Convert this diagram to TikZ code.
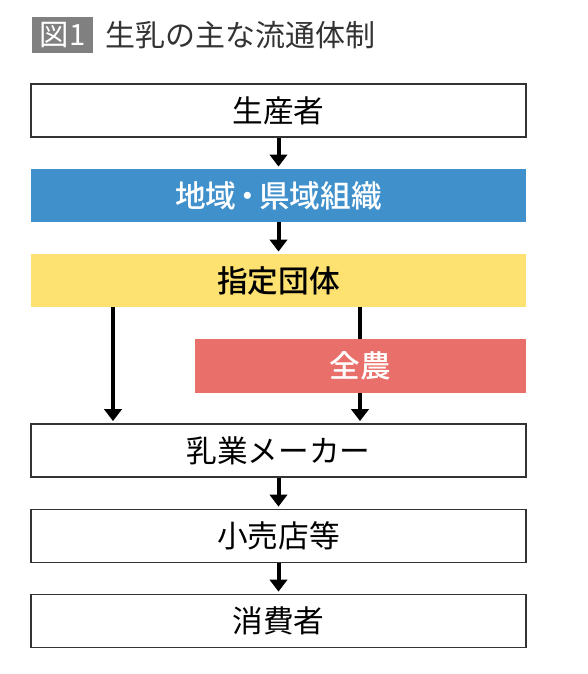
\documentclass[tikz,border=0pt]{standalone}
\usepackage{fontspec}
\setmainfont{Noto Sans CJK JP}
\newfontfamily\medjp{Noto Sans CJK JP Medium}
\usepackage{tikz}
\usetikzlibrary{arrows.meta}

\definecolor{zublue}{RGB}{64,144,204}
\definecolor{zuyellow}{RGB}{253,226,114}
\definecolor{zured}{RGB}{233,112,106}
\definecolor{zugray}{RGB}{128,128,128}
\definecolor{zuline}{RGB}{51,51,51}

\tikzset{
  stage/.style={draw=zuline, line width=1.1pt, fill=white, minimum width=371.25pt, minimum height=40pt, inner sep=0pt, font=\fontsize{23}{23}\selectfont},
  band/.style={fill=#1, minimum width=371.25pt, minimum height=40pt, inner sep=0pt, font=\fontsize{23}{23}\selectfont\medjp},
  flow/.style={line width=3pt, -{Triangle[width=13pt,length=9pt]}, shorten >=1.5pt}
}

\begin{document}
\begin{tikzpicture}[x=0.75pt,y=0.75pt,yscale=-1,xscale=1]
                  \useasboundingbox (0,0) rectangle (588,674);

                  % Title
                  \node [fill=zugray, text=white, minimum width=45.75pt, minimum height=27pt, inner sep=0pt, font=\fontsize{22}{22}\selectfont] (zu) at (62.5,35) {図1};
                  \node [anchor=west, inner sep=0pt, text=zuline, font=\fontsize{22.5}{22.5}\selectfont] (title) at (105,35) {生乳の主な流通体制};

                  % Stages
                  \node [stage] (seisan) at (278.5,110.5) {生産者};
                  \node [band=zublue, text=white] (chiiki) at (278.5,195.5) {地域\kern-3pt・\kern-3pt県域組織};
                  \node [band=zuyellow, text=black] (shitei) at (278.5,280.5) {指定団体};
                  \node [stage] (nyugyo) at (278.5,450.5) {乳業メーカー};
                  \node [stage] (kouri) at (278.5,536) {小売店等};
                  \node [stage] (shohi) at (278.5,621) {消費者};

                  \coordinate (leftx) at (113,0);
                  \coordinate (rightx) at (360,0);

                  % Arrows
                  \draw [flow] (seisan) -- (chiiki);
                  \draw [flow] (chiiki) -- (shitei);
                  \draw [flow] (shitei.south -| leftx) -- (nyugyo.north -| leftx);
                  \draw [flow] (shitei.south -| rightx) -- (nyugyo.north -| rightx);
                  \draw [flow] (nyugyo) -- (kouri);
                  \draw [flow] (kouri) -- (shohi);

                  % Zennoh box on top of the right arrow
                  \node [band=zured, text=white, minimum width=248.25pt] (zennoh) at (360.5,366) {全農};

\end{tikzpicture}
\end{document}
